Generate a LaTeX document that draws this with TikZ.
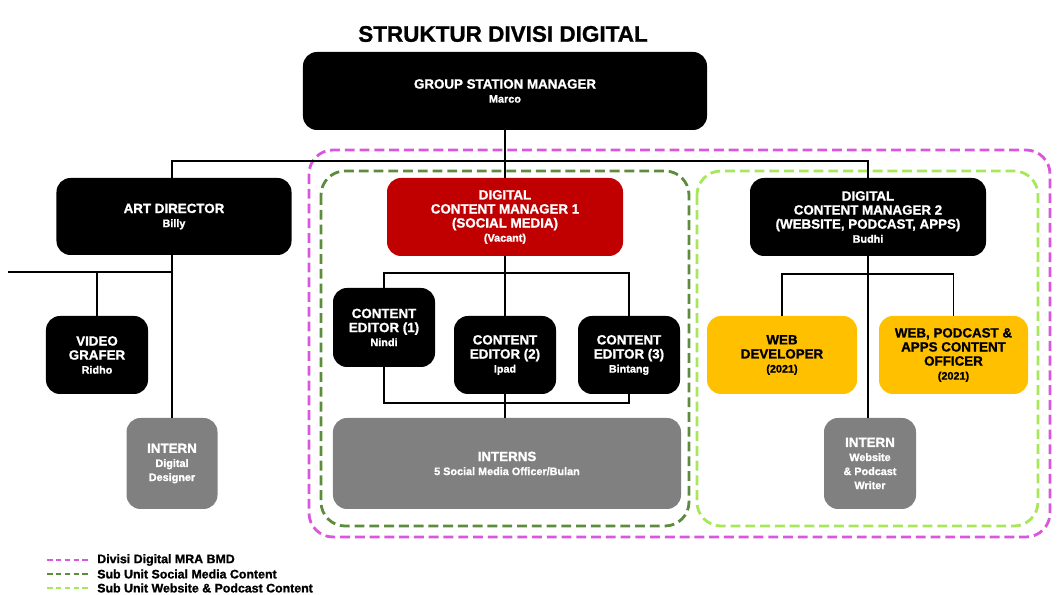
\documentclass[tikz,border=0pt]{standalone}
\usepackage{fontspec}
\setmainfont{Liberation Sans}[BoldFeatures={FakeBold=1.2}]
\definecolor{dcmred}{HTML}{C00000}
\definecolor{ylw}{HTML}{FFC000}
\definecolor{intgray}{HTML}{808080}
\definecolor{divmag}{HTML}{D957DE}
\definecolor{sosgreen}{HTML}{5E8C3E}
\definecolor{webgreen}{HTML}{A6E85A}
\newcommand{\nm}[1]{{\fontsize{7.7}{9}\selectfont #1}}
\begin{document}
\begin{tikzpicture}[x=0.25mm,y=-0.25mm,
	box/.style={rounded corners=3.5mm, align=center, inner sep=0pt, fill=black, text=white, font=\fontsize{9.5}{10}\selectfont\bfseries, minimum height=19.5mm},
	redbox/.style={box, fill=dcmred},
	ylwbox/.style={box, fill=ylw, text=black},
	grybox/.style={box, fill=intgray, minimum height=22.75mm},
	link/.style={line width=1.4pt},
	group/.style={line width=2pt, rounded corners=6mm, dash pattern=on 7pt off 3.5pt},
	legline/.style={line width=1.8pt, dash pattern=on 4pt off 2.3pt},
	legend/.style={anchor=west, inner sep=0pt, font=\fontsize{8.8}{10}\selectfont\bfseries}]
	\useasboundingbox (0,0) rectangle (1059,595);
	\node[font=\fontsize{16}{19}\selectfont\bfseries] (title) at (503,34) {STRUKTUR DIVISI DIGITAL};
	
	% groups
	\draw[group, draw=divmag] (309,150) rectangle (1050,537);
	\draw[group, draw=sosgreen] (321,171) rectangle (689,526);
	\draw[group, draw=webgreen] (697,171) rectangle (1038,526);
	
	% boxes
	\node[box, minimum width=101mm] (gsm) at (505,91) {GROUP STATION MANAGER\\\nm{Marco}};
	\node[box, minimum width=58.75mm, minimum height=19.25mm] (art) at (174,216.5) {ART DIRECTOR\\\nm{Billy}};
	\node[box, minimum width=25.5mm] (video) at (97,355) {VIDEO\\GRAFER\\\nm{Ridho}};
	\node[grybox, minimum width=22.75mm] (intdd) at (172,463.5) {INTERN\\\nm{Digital}\\\nm{Designer}};
	
	\node[redbox, minimum width=59mm] (dcm1) at (505,217) {DIGITAL\\CONTENT MANAGER 1\\(SOCIAL MEDIA)\\\nm{(Vacant)}};
	\node[box, minimum width=25.5mm, minimum height=19.75mm] (ce1) at (384,327.5) {CONTENT\\EDITOR (1)\\\nm{Nindi}};
	\node[box, minimum width=25.5mm] (ce2) at (505,355) {CONTENT\\EDITOR (2)\\\nm{Ipad}};
	\node[box, minimum width=25.5mm] (ce3) at (629,355) {CONTENT\\EDITOR (3)\\\nm{Bintang}};
	\node[grybox, minimum width=87mm] (interns) at (507,463.5) {INTERNS\\\nm{5 Social Media Officer/Bulan}};
	
	\node[box, minimum width=59mm] (dcm2) at (868,217) {DIGITAL\\CONTENT MANAGER 2\\(WEBSITE, PODCAST, APPS)\\\nm{Budhi}};
	\node[ylwbox, minimum width=37.5mm] (webdev) at (782,355) {WEB\\DEVELOPER\\\nm{(2021)}};
	\node[ylwbox, minimum width=37.25mm] (wpa) at (953.5,355) {WEB, PODCAST \&\\APPS CONTENT\\OFFICER\\\nm{(2021)}};
	\node[grybox, minimum width=23mm] (intweb) at (870,463.5) {INTERN\\\nm{Website}\\\nm{\& Podcast}\\\nm{Writer}};
	
	% links
	\coordinate (topbus) at (505,161);
	\coordinate (artbus) at (8,272);
	\coordinate (cm1top) at (505,273);
	\coordinate (cm1low) at (505,403);
	\coordinate (cm2top) at (868,274);
	\draw[link] (gsm.south) -- (dcm1.north);
	\draw[link] (art.north -| intdd.north) |- (topbus) -| (dcm2.north);
	\draw[link] (artbus) -| (art.south -| intdd.north);
	\draw[link] (art.south -| intdd.north) -- (intdd.north);
	\draw[link] (video.north) -- (video.north |- artbus);
	\draw[link] (dcm1.south) -- (ce2.north);
	\draw[link] (ce1.north) |- (cm1top) -| (ce3.north);
	\draw[link] (ce1.south) |- (cm1low) -| (ce3.south);
	\draw[link] (ce2.south) -- (ce2.south |- interns.north);
	\draw[link] (dcm2.south) -- (dcm2.south |- intweb.north);
	\draw[link] (webdev.north) |- (cm2top) -| (wpa.north);
	
	% legend
	\foreach \c/\y/\t [count=\i] in {divmag/560/Divisi Digital MRA BMD, sosgreen/574/Sub Unit Social Media Content, webgreen/588/Sub Unit Website \& Podcast Content}{
		\node[legend] (leg\i) at (97,\y) {\t};
		\draw[legline, draw=\c] (47,\y) -- (90,\y);
	}
\end{tikzpicture}
\end{document}
